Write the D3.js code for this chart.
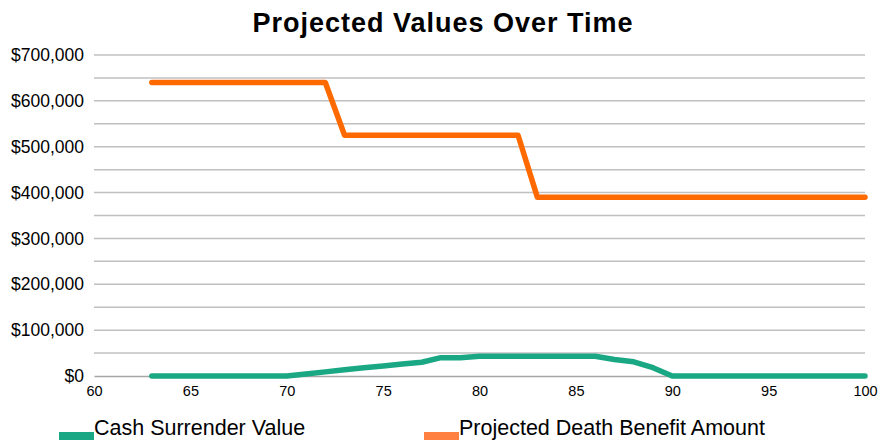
<!DOCTYPE html>
<html>
<head>
<meta charset="utf-8">
<script src="https://cdn.jsdelivr.net/npm/d3@7"></script>
<style>
  body { margin: 0; background: #fff; }
  svg { font-family: "Liberation Sans", Arial, sans-serif; }
</style>
</head>
<body>
<div id="chart"></div>
<script>
// ages on the x axis
const ages = d3.range(63, 101);
const cashSurrender = [
  0, 0, 0, 0, 0, 0, 0, 0,            // 63-70
  4500, 9000, 13500, 18000, 22000, 26000, 30000, // 71-77
  40000, 40000,                      // 78-79
  43000, 43000, 43000, 43000, 43000, 43000, 43000, // 80-86
  36000, 31000, 18000,               // 87-89
  0, 0, 0, 0, 0, 0, 0, 0, 0, 0, 0   // 90-100
];
const deathBenefit = [
  640000, 640000, 640000, 640000, 640000, 640000, 640000, 640000, 640000, 640000, // 63-72
  525000, 525000, 525000, 525000, 525000, 525000, 525000, 525000, 525000, 525000, // 73-82
  390000, 390000, 390000, 390000, 390000, 390000, 390000, 390000, 390000,
  390000, 390000, 390000, 390000, 390000, 390000, 390000, 390000, 390000          // 83-100
];
const xTicks = [60, 65, 70, 75, 80, 85, 90, 95, 100];
const yLabelTicks = [0, 100000, 200000, 300000, 400000, 500000, 600000, 700000];
const yGridTicks = d3.range(0, 700001, 50000);
const seriesNames = ['Cash Surrender Value', 'Projected Death Benefit Amount'];

const W = 878, H = 440;
const M = {top: 55, right: 13, bottom: 64, left: 94};
const FONT = '"Liberation Sans", Arial, sans-serif';

const svg = d3.select('#chart').append('svg')
  .attr('width', W)
  .attr('height', H);

const x = d3.scaleLinear().domain([60, 100]).range([M.left, W - M.right]);
const y = d3.scaleLinear().domain([0, 700000]).range([H - M.bottom, M.top]);

// title
svg.append('text')
  .attr('x', 443)
  .attr('y', 32)
  .attr('text-anchor', 'middle')
  .attr('font-size', 27)
  .attr('font-weight', 'bold')
  .attr('letter-spacing', 1)
  .text('Projected Values Over Time');

// gridlines
svg.append('g')
  .selectAll('line')
  .data(yGridTicks.filter(d => d > 0))
  .join('line')
  .attr('x1', M.left)
  .attr('x2', W - M.right)
  .attr('y1', d => y(d))
  .attr('y2', d => y(d))
  .attr('stroke', '#c0c0c0')
  .attr('stroke-width', 1.5);

// y axis labels
const yAxis = svg.append('g')
  .attr('transform', `translate(${M.left},0)`)
  .call(d3.axisLeft(y).tickValues(yLabelTicks).tickSize(0).tickPadding(10)
    .tickFormat(d => '$' + d3.format(',')(d)));
yAxis.select('.domain').remove();
yAxis.selectAll('text').attr('font-size', 17.5).attr('fill', '#000')
  .attr('font-family', FONT);

// x axis
const xAxis = svg.append('g')
  .attr('transform', `translate(0,${y(0)})`)
  .call(d3.axisBottom(x).tickValues(xTicks).tickSize(0).tickPadding(10));
xAxis.select('.domain').attr('stroke', '#a6a6a6').attr('stroke-width', 1.5);
xAxis.selectAll('text').attr('font-size', 14.5).attr('fill', '#000')
  .attr('font-family', FONT);

// lines
const colors = ['#1aa783', '#ff6a00'];
const legendColors = ['#1aa783', '#ff8040'];
const series = [cashSurrender, deathBenefit];

const line = d3.line()
  .x((d, i) => x(ages[i]))
  .y(d => y(d));

svg.append('g')
  .selectAll('path')
  .data(series)
  .join('path')
  .attr('d', d => line(d))
  .attr('fill', 'none')
  .attr('stroke', (d, i) => colors[i])
  .attr('stroke-width', 5.5)
  .attr('stroke-linecap', 'round')
  .attr('stroke-linejoin', 'round');

// legend
const legendX = [59, 424];
const legend = svg.append('g')
  .selectAll('g')
  .data(seriesNames)
  .join('g')
  .attr('transform', (d, i) => `translate(${legendX[i]},0)`);

legend.append('rect')
  .attr('x', 0)
  .attr('y', 432)
  .attr('width', 35)
  .attr('height', 8)
  .attr('fill', (d, i) => legendColors[i]);

legend.append('text')
  .attr('x', 35)
  .attr('y', 435)
  .attr('font-size', 21.5)
  .attr('fill', '#000')
  .text(d => d);
</script>
</body>
</html>
